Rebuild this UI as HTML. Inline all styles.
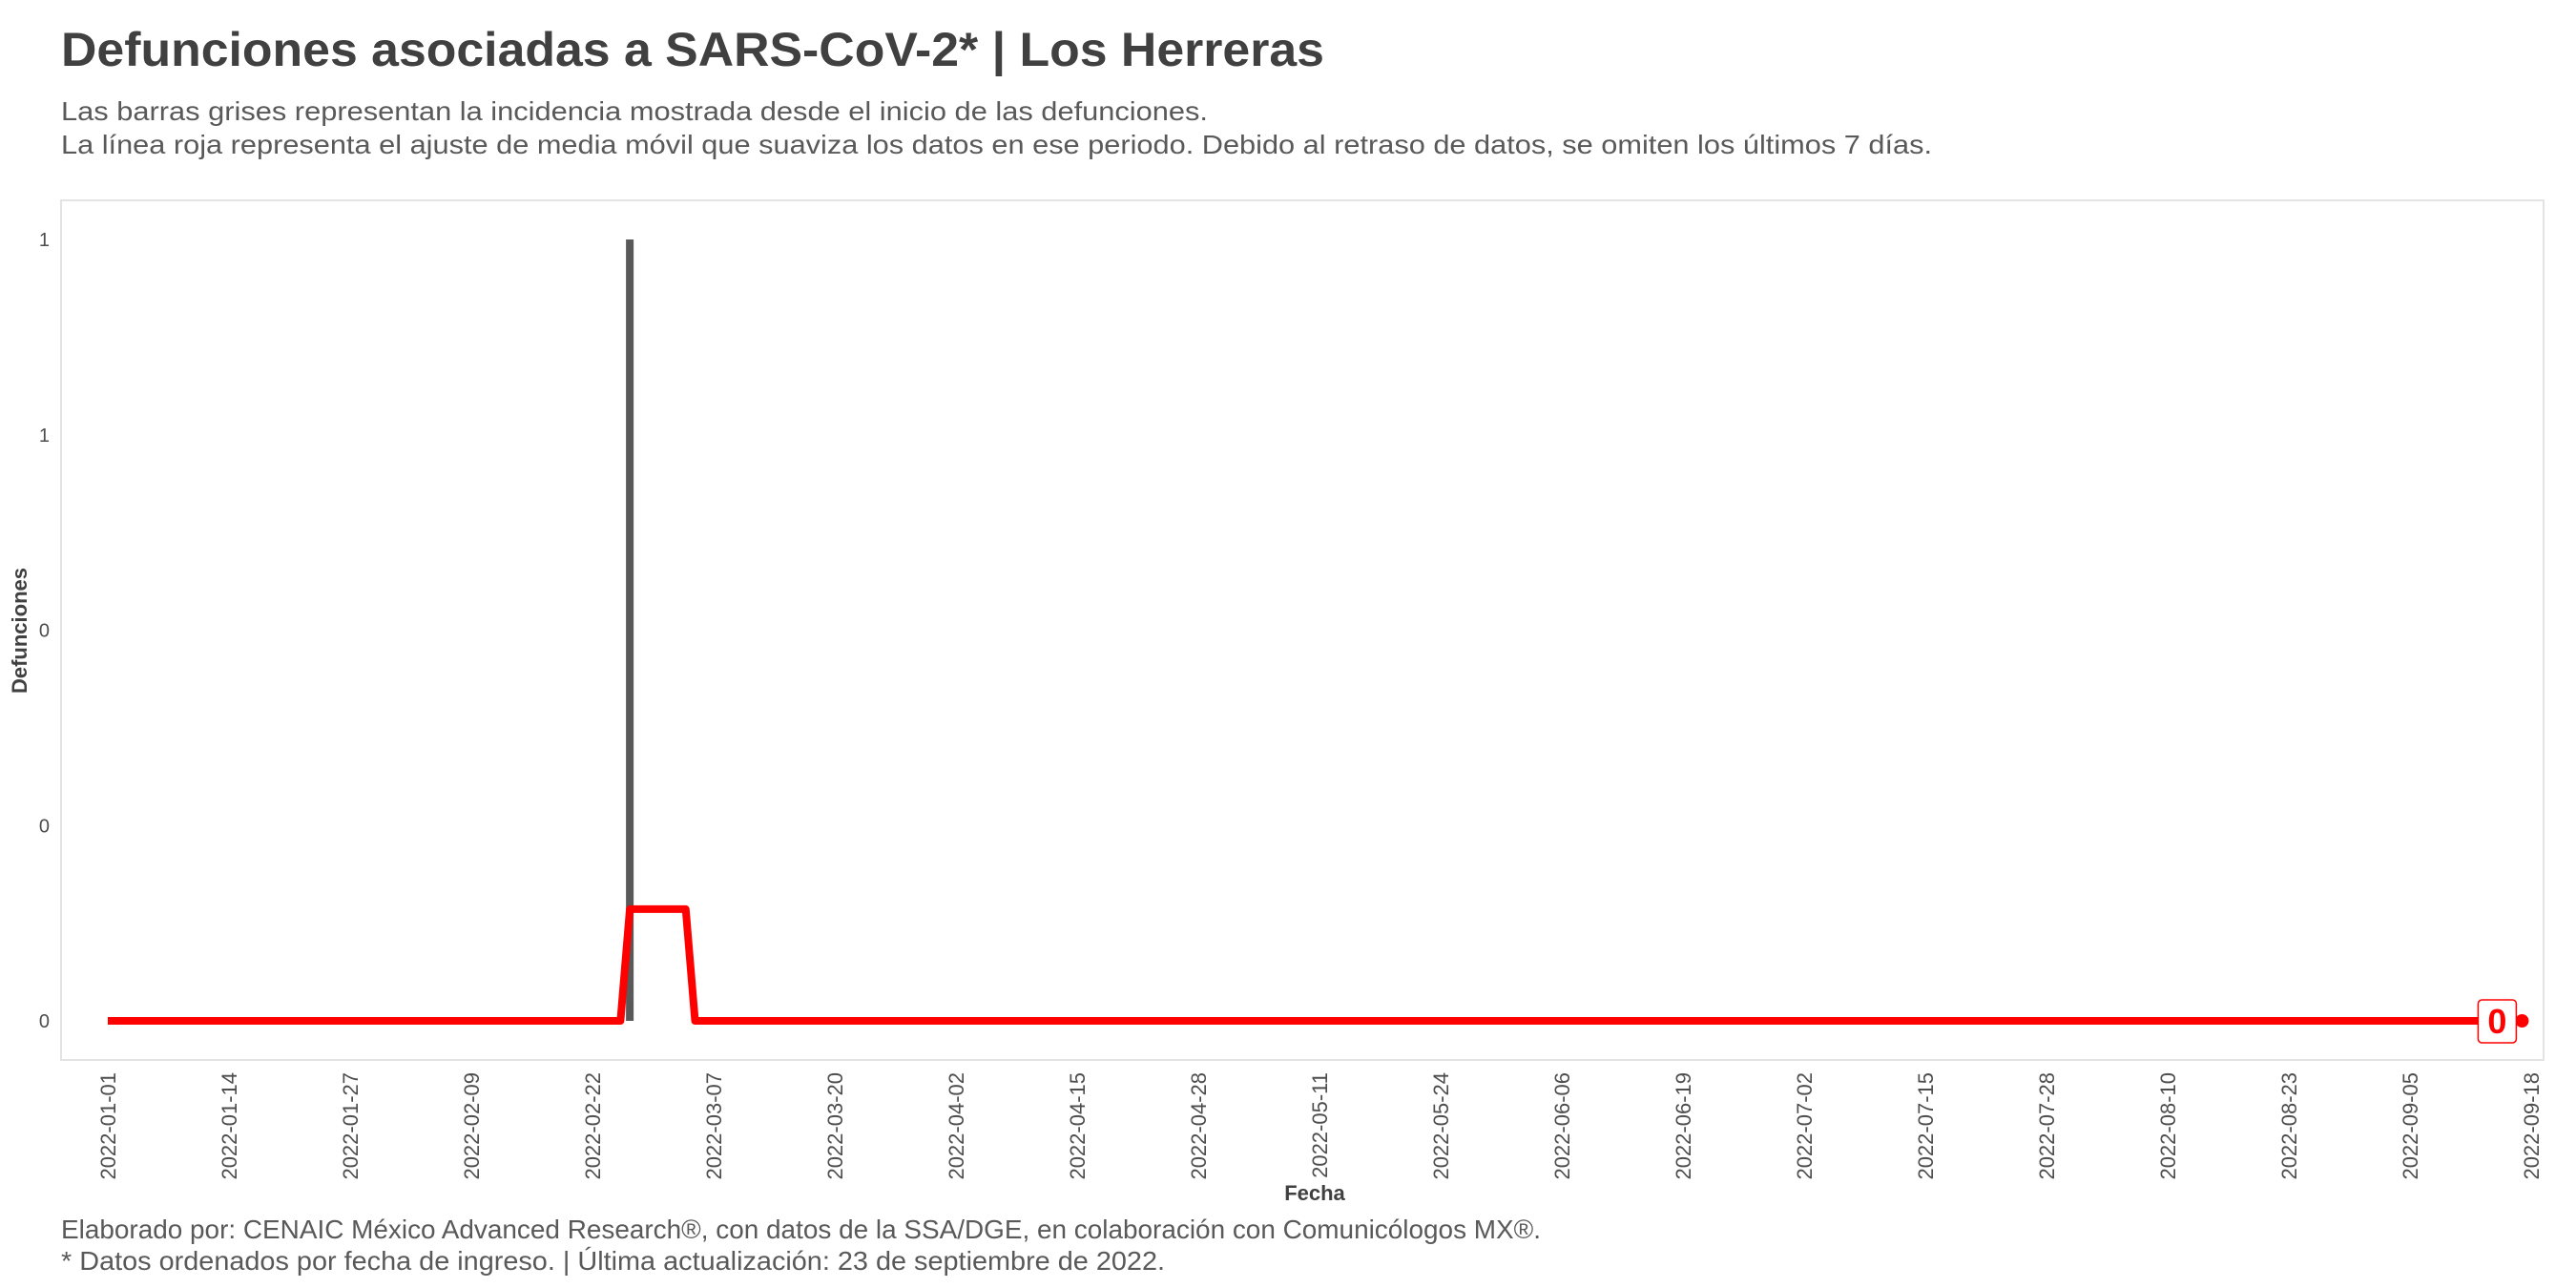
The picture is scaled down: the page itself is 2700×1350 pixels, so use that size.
<!DOCTYPE html>
<html><head><meta charset="utf-8"><style>
html,body{margin:0;padding:0;background:#fff;}
svg{display:block;font-family:"Liberation Sans",sans-serif;}
</style></head><body>
<svg id="chart" width="2700" height="1350" viewBox="0 0 2700 1350">
<text x="64" y="69" font-size="50" font-weight="bold" fill="#404040" textLength="1324" lengthAdjust="spacingAndGlyphs">Defunciones asociadas a SARS-CoV-2* | Los Herreras</text>
<text x="64" y="126" font-size="28" fill="#595959" textLength="1202" lengthAdjust="spacingAndGlyphs">Las barras grises representan la incidencia mostrada desde el inicio de las defunciones.</text>
<text x="64" y="161" font-size="28" fill="#595959" textLength="1961" lengthAdjust="spacingAndGlyphs">La línea roja representa el ajuste de media móvil que suaviza los datos en ese periodo. Debido al retraso de datos, se omiten los últimos 7 días.</text>
<rect x="64" y="210" width="2602" height="901" fill="none" stroke="#e3e3e3" stroke-width="2"/>
<g id="yticks"></g><g id="xticks"></g><g id="marks"></g>
<text transform="translate(28,661) rotate(-90)" text-anchor="middle" font-size="22" font-weight="bold" fill="#404040">Defunciones</text>
<text x="1378" y="1258" text-anchor="middle" font-size="22" font-weight="bold" fill="#404040">Fecha</text>
<text x="64" y="1298" font-size="28" fill="#595959" textLength="1551" lengthAdjust="spacingAndGlyphs">Elaborado por: CENAIC México Advanced Research®, con datos de la SSA/DGE, en colaboración con Comunicólogos MX®.</text>
<text x="64" y="1331" font-size="28" fill="#595959" textLength="1157" lengthAdjust="spacingAndGlyphs">* Datos ordenados por fecha de ingreso. | Última actualización: 23 de septiembre de 2022.</text>
</svg>
<script>
const xTickLabels = ['2022-01-01','2022-01-14','2022-01-27','2022-02-09','2022-02-22','2022-03-07','2022-03-20','2022-04-02','2022-04-15','2022-04-28','2022-05-11','2022-05-24','2022-06-06','2022-06-19','2022-07-02','2022-07-15','2022-07-28','2022-08-10','2022-08-23','2022-09-05','2022-09-18'];
const yTickValues = [0, 0.25, 0.5, 0.75, 1];
const yTickLabels = ['0','0','0','1','1'];
const barDates = ['2022-02-26'];
const barValues = [1];
const maDates = ['2022-01-01','2022-02-25','2022-02-26','2022-03-04','2022-03-05','2022-09-17'];
const maValues = [0, 0, 0.143, 0.143, 0, 0];
const lastLabel = '0';

const NS = 'http://www.w3.org/2000/svg';
const t0 = Date.UTC(2022,0,1);
function dayOf(s){const p=s.split('-');return (Date.UTC(+p[0],+p[1]-1,+p[2])-t0)/86400000;}
function xs(s){return 113 + dayOf(s)*9.77;}
function ys(v){return 1070 - v*(1070-251);}
function mk(tag, attrs, parent){const e=document.createElementNS(NS,tag);for(const k in attrs)e.setAttribute(k,attrs[k]);parent.appendChild(e);return e;}

const yg=document.getElementById('yticks');
yTickValues.forEach((v,i)=>{
  const t=mk('text',{x:52,y:ys(v)+7,'text-anchor':'end','font-size':20,fill:'#4d4d4d'},yg);
  
  
  t.textContent=yTickLabels[i];
});
const xg=document.getElementById('xticks');
xTickLabels.forEach(s=>{
  const x=xs(s);
  const t=mk('text',{transform:`translate(${x+8},1124) rotate(-90)`,'text-anchor':'end','font-size':22,fill:'#4d4d4d'},xg);
  
  
  t.textContent=s;
});
const mg=document.getElementById('marks');
barDates.forEach((d,i)=>{
  const r=mk('rect',{x:xs(d)-4,y:ys(barValues[i]),width:8,height:ys(0)-ys(barValues[i]),fill:'#595959'},mg);
  
  
});
const pts=maDates.map((d,i)=>xs(d)+','+ys(maValues[i])).join(' ');
const pl=mk('polyline',{points:pts,fill:'none',stroke:'#ff0000','stroke-width':8,'stroke-linejoin':'round'},mg);


const lx=xs(maDates[maDates.length-1]), ly=ys(maValues[maValues.length-1]);
const dot=mk('circle',{cx:lx,cy:ly,r:7,fill:'#ff0000'},mg);


const box=mk('rect',{x:lx-46,y:ly-22,width:40,height:45,rx:4,fill:'#fff',stroke:'#ff0000','stroke-width':1.5},mg);


const lt=mk('text',{x:lx-26,y:ly+13,'text-anchor':'middle','font-size':36,'font-weight':'bold',fill:'#ff0000'},mg);


lt.textContent=lastLabel;
</script>
</body></html>
